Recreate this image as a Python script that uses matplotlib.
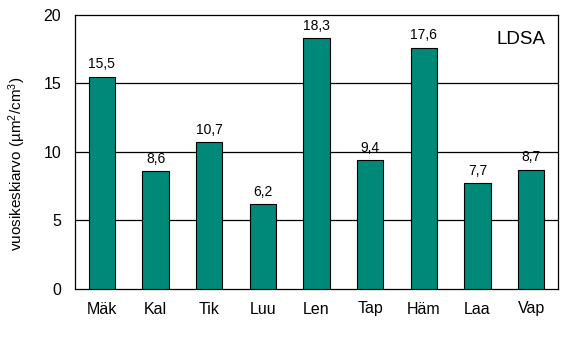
import matplotlib
matplotlib.use("Agg")
import matplotlib.pyplot as plt

sites = ["Mäk", "Kal", "Tik", "Luu", "Len", "Tap", "Häm", "Laa", "Vap"]
ldsa = [15.5, 8.6, 10.7, 6.2, 18.3, 9.4, 17.6, 7.7, 8.7]

plt.rcParams['font.family'] = ['Liberation Sans', 'DejaVu Sans']
plt.rcParams['mathtext.default'] = 'regular'

fig = plt.figure(figsize=(5.7, 3.4), dpi=100)
ax = fig.add_axes([0.1316, 0.15, 0.8474, 0.806])

x = range(len(sites))
ax.bar(x, ldsa, width=0.49, color="#008878", edgecolor="black", linewidth=0.8, zorder=3)
for i, v in zip(x, ldsa):
    ax.text(i, v + 0.4, f"{v:.1f}".replace(".", ","), ha="center", va="bottom", fontsize=10)

ax.set_ylim(0, 20)
ax.set_xlim(-0.5, len(sites) - 0.5)
ax.set_yticks([0, 5, 10, 15, 20])
ax.set_xticks(list(x))
ax.set_xticklabels(sites)
ax.tick_params(length=0, labelsize=11.5)
ax.tick_params(axis="y", pad=10)
ax.tick_params(axis="x", pad=9)
for y in [5, 10, 15]:
    ax.axhline(y, color="black", linewidth=0.9, zorder=1)
for s in ax.spines.values():
    s.set_linewidth(0.9)

ax.set_ylabel("vuosikeskiarvo (µm$^2$/cm$^3$)", fontsize=11)
ax.yaxis.set_label_coords(-0.097, 0.456)
ax.text(0.975, 0.94, "LDSA", transform=ax.transAxes, ha="right", va="top", fontsize=13.5)

fig.savefig("out.png", dpi=100)
